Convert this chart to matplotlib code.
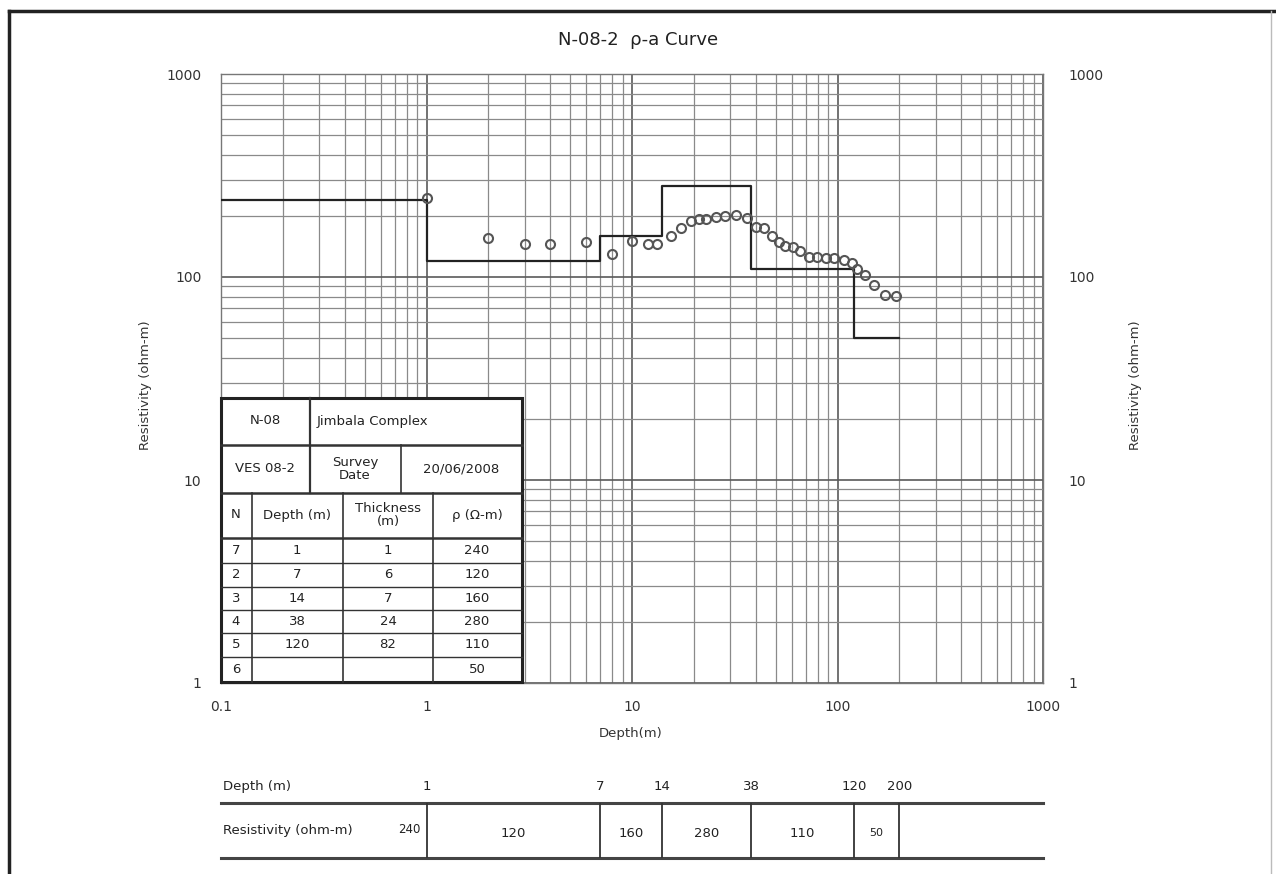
import matplotlib
matplotlib.use('Agg')
import numpy as np
import matplotlib.pyplot as plt
from matplotlib.lines import Line2D
from matplotlib.patches import Rectangle
from matplotlib.ticker import LogLocator, NullFormatter

plt.rcParams['font.family'] = ['DejaVu Sans']

# layered model (interpreted)
layer_no = ['7', '2', '3', '4', '5', '6']
layer_depth = [1, 7, 14, 38, 120]
layer_thick = [1, 6, 7, 24, 82]
layer_rho = [240, 120, 160, 280, 110, 50]
start_depth = 0.1
end_depth = 200

# field readings, apparent resistivity vs AB/2
ab2 = [1, 2, 3, 4, 6, 8, 10, 12, 13.3, 15.4, 17.4, 19.3, 21.3, 23, 25.5,
       28.5, 32.2, 36.4, 40.2, 43.8, 48, 51.8, 55.8, 60.9, 66, 72.5, 79.6,
       87.5, 96, 107, 117, 125, 136, 151, 171, 192]
rho_a = [245, 155, 146, 145, 149, 130, 151, 145, 146, 159, 174, 189, 192,
         192, 198, 200, 202, 195, 177, 174, 159, 149, 142, 140, 135, 126,
         125, 124, 124, 121, 117, 109, 102, 91, 81.5, 80.6]

x_ticks = [0.1, 1, 10, 100, 1000]
x_labels = ['0.1', '1', '10', '100', '1000']
y_ticks = [1, 10, 100, 1000]
y_labels = ['1', '10', '100', '1000']

W, H = 1276, 874
fig = plt.figure(figsize=(W / 100, H / 100), dpi=100)


def fig_rect(x0, y0, x1, y1):
    # pixel box (top-left origin) -> figure fraction
    return [x0 / W, 1 - y1 / H, (x1 - x0) / W, (y1 - y0) / H]


ax = fig.add_axes(fig_rect(221, 74, 1043, 683))
ax.set_xscale('log')
ax.set_yscale('log')
ax.set_xlim(0.1, 1000)
ax.set_ylim(1, 1000)
ax.xaxis.set_minor_locator(LogLocator(base=10, subs=np.arange(2, 10), numticks=20))
ax.yaxis.set_minor_locator(LogLocator(base=10, subs=np.arange(2, 10), numticks=20))
ax.set_xticks(x_ticks, labels=x_labels)
ax.set_yticks(y_ticks, labels=y_labels)
ax.xaxis.set_minor_formatter(NullFormatter())
ax.yaxis.set_minor_formatter(NullFormatter())
ax.tick_params(which='both', length=0, labelsize=10, colors='#333')
ax.tick_params(axis='y', pad=14)
ax.tick_params(axis='x', pad=12)
ax.grid(which='major', color='#5a5a5a', lw=1.2)
ax.grid(which='minor', color='#8a8a8a', lw=0.9)
ax.set_axisbelow(True)
for s in ax.spines.values():
    s.set_color('#777')
    s.set_linewidth(1)

# model step curve
step_x = [start_depth] + layer_depth + [end_depth]
step_y = layer_rho + [layer_rho[-1]]
ax.step(step_x, step_y, where='post', color='#222', lw=1.6, zorder=3)

# measured points
ax.plot(ab2, rho_a, 'o', mfc='none', mec='#555', ms=6.5, mew=1.5, zorder=4)

axr = ax.twinx()
axr.set_yscale('log')
axr.set_ylim(1, 1000)
axr.yaxis.set_minor_locator(LogLocator(base=10, subs=np.arange(2, 10), numticks=20))
axr.set_yticks(y_ticks, labels=y_labels)
axr.yaxis.set_minor_formatter(NullFormatter())
axr.tick_params(which='both', length=0, labelsize=10, colors='#333', pad=18)
for s in axr.spines.values():
    s.set_visible(False)

fig.text(638 / W, 1 - 40 / H, 'N-08-2  ρ-a Curve', ha='center', va='center',
         fontsize=13, color='#222')
fig.text(631 / W, 1 - 733 / H, 'Depth(m)', ha='center', va='center',
         fontsize=9.5, color='#333')
fig.text(145 / W, 1 - 385 / H, 'Resistivity (ohm-m)', rotation=90,
         ha='center', va='center', fontsize=9.5, color='#333')
fig.text(1135 / W, 1 - 385 / H, 'Resistivity (ohm-m)', rotation=90,
         ha='center', va='center', fontsize=9.5, color='#333')

# summary table in lower left of the plot
tab = fig.add_axes(fig_rect(221, 398, 522, 682), zorder=5)
tab.set_xlim(221, 522)
tab.set_ylim(682, 398)
tab.axis('off')
tab.add_patch(Rectangle((221, 398), 301, 284, facecolor='white',
                        edgecolor='#222', lw=2.2, clip_on=False))
rows_y = [398, 445, 493, 538, 563, 587, 610, 633, 657, 682]
cols_x = [221, 252, 343, 433, 522]
lc = '#333'
for y in rows_y[1:4]:
    tab.plot([221, 522], [y, y], color=lc, lw=1.8, clip_on=False)
for y in rows_y[4:-1]:
    tab.plot([221, 522], [y, y], color=lc, lw=1.0, clip_on=False)
tab.plot([310, 310], [398, 493], color=lc, lw=1.6, clip_on=False)
tab.plot([401, 401], [445, 493], color=lc, lw=1.2, clip_on=False)
for x in cols_x[1:-1]:
    tab.plot([x, x], [493, 682], color=lc, lw=1.2, clip_on=False)

tk = dict(ha='center', va='center', fontsize=9.5, color='#222')
tab.text(265, 421, 'N-08', **tk)
tab.text(317, 421, 'Jimbala Complex', ha='left', va='center', fontsize=9.5, color='#222')
tab.text(265, 469, 'VES 08-2', **tk)
tab.text(355, 469, 'Survey\nDate', linespacing=1.05, **tk)
tab.text(461, 469, '20/06/2008', **tk)
tab.text(236, 515, 'N', **tk)
tab.text(297, 515, 'Depth (m)', **tk)
tab.text(388, 515, 'Thickness\n(m)', linespacing=1.0, **tk)
tab.text(477, 515, 'ρ (Ω-m)', **tk)
for i, n in enumerate(layer_no):
    yc = (rows_y[3 + i] + rows_y[4 + i]) / 2
    tab.text(236, yc, n, **tk)
    if i < len(layer_depth):
        tab.text(297, yc, str(layer_depth[i]), **tk)
        tab.text(388, yc, str(layer_thick[i]), **tk)
    tab.text(477, yc, str(layer_rho[i]), **tk)

# depth / resistivity strip below the chart
strip = fig.add_axes(fig_rect(221, 770, 1043, 866))
strip.set_xscale('log')
strip.set_xlim(0.1, 1000)
strip.set_ylim(866, 770)
strip.axis('off')
for y in (803, 858):
    strip.plot([0.1, 1000], [y, y], color='#444', lw=2.2, clip_on=False)
bounds = layer_depth + [end_depth]
strip.vlines(bounds, 803, 858, color='#333', lw=1.3)
sk = dict(ha='center', va='center', fontsize=9.5, color='#222')
strip.text(0.102, 786, 'Depth (m)', ha='left', va='center', fontsize=9.5, color='#222')
strip.text(0.102, 830, 'Resistivity (ohm-m)', ha='left', va='center', fontsize=9.5, color='#222')
for d in bounds:
    strip.text(d, 786, str(d), **sk)
strip.text(0.94, 829, str(layer_rho[0]), ha='right', va='center', fontsize=8.5, color='#222')
for i in range(1, len(layer_rho)):
    xm = np.sqrt(bounds[i - 1] * bounds[i])
    strip.text(xm, 833, str(layer_rho[i]), fontsize=9.5 if i < 5 else 8, ha='center',
               va='center', color='#222')

# page frame
fig.add_artist(Line2D([9 / W, 9 / W], [0, 1 - 11 / H], color='#222', lw=2.5))
fig.add_artist(Line2D([9 / W, 1], [1 - 11 / H, 1 - 11 / H], color='#222', lw=2.5))
fig.add_artist(Line2D([1271 / W, 1271 / W], [0, 1 - 11 / H], color='#bbb', lw=1))

fig.savefig('out.png', dpi=100)
